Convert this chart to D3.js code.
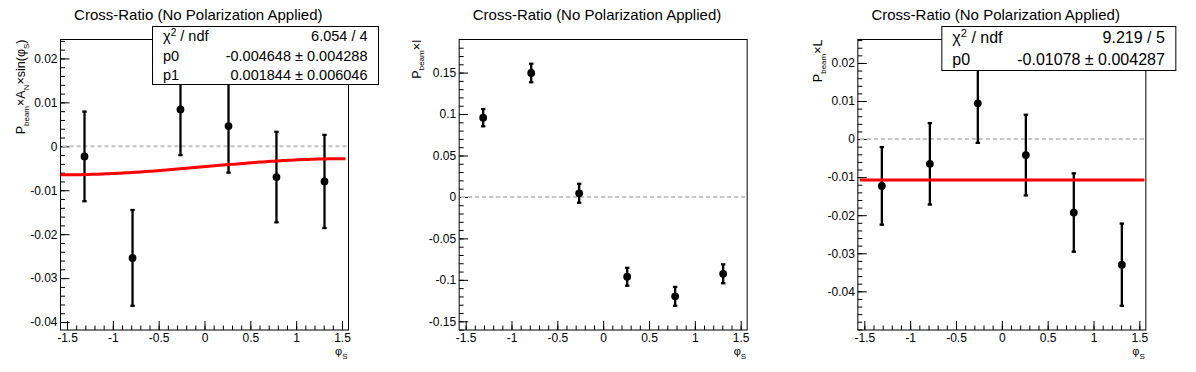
<!DOCTYPE html>
<html>
<head>
<meta charset="utf-8">
<script src="https://cdn.jsdelivr.net/npm/d3@7"></script>
<style>
  body { margin: 0; background: #fff; }
  svg { display: block; font-family: "Liberation Sans", Arial, Helvetica, sans-serif; }
</style>
</head>
<body>
<svg id="chart" width="1196" height="372"></svg>
<script>
// bin centres of phi_S (6 bins over -pi/2 .. pi/2)
const phiS = [-1.309, -0.785, -0.262, 0.262, 0.785, 1.309];

// Pbeam x A_N x sin(phi_S)
const sinMod = [-0.0023, -0.0254, 0.0084, 0.0046, -0.0070, -0.0080];
const sinModErr = [0.0102, 0.0109, 0.0104, 0.0106, 0.0103, 0.0106];
// Pbeam x I
const beamI = [0.0956, 0.1495, 0.0044, -0.0963, -0.1199, -0.0927];
const beamIErr = [0.0104, 0.0112, 0.0114, 0.0108, 0.0114, 0.0114];
// Pbeam x L
const beamL = [-0.0123, -0.0065, 0.0094, -0.0042, -0.0193, -0.0330];
const beamLErr = [0.0102, 0.0107, 0.0104, 0.0106, 0.0103, 0.0108];

// fit results
const sinFitPars = [-0.004648, 0.001844];
const sinStats = [["χ^2 / ndf", "6.054 / 4"], ["p0", "-0.004648 ± 0.004288"], ["p1", "0.001844 ± 0.006046"]];
const lFitPars = [-0.01078];
const lStats = [["χ^2 / ndf", "9.219 / 5"], ["p0", "-0.01078 ± 0.004287"]];

// tick labels
const xTicks = [-1.5, -1, -0.5, 0, 0.5, 1, 1.5];
const sinTicks = [-0.04, -0.03, -0.02, -0.01, 0, 0.01, 0.02];
const iTicks = [-0.15, -0.1, -0.05, 0, 0.05, 0.1, 0.15];
const lTicks = [-0.04, -0.03, -0.02, -0.01, 0, 0.01, 0.02];

const title = "Cross-Ratio (No Polarization Applied)";

const W = 1196, H = 372, padW = W / 3;
const frame = {left: 60.5, right: 348.5, top: 39.5, bottom: 330};
const fmt = d => String(+d.toFixed(4));

const panels = [
  {vals: sinMod, errs: sinModErr, yTicks: sinTicks, titleX: 25,
   yTitle: [["P"], ["beam", 1], ["×A"], ["N", 1], ["×sin(φ"], ["S", 1], [")"]],
   fit: {pars: sinFitPars, f: (p, t) => p[0] + p[1] * Math.sin(t), range: [-1.5708, 1.538]},
   stats: {rows: sinStats, x1: 152.5, x2: 378.5, y1: 26.5, y2: 84.5, fs: 14.5}},
  {vals: beamI, errs: beamIErr, yTicks: iTicks, titleX: 22,
   yTitle: [["P"], ["beam", 1], ["×I"]]},
  {vals: beamL, errs: beamLErr, yTicks: lTicks, titleX: 25,
   yTitle: [["P"], ["beam", 1], ["×L"]],
   fit: {pars: lFitPars, f: (p, t) => p[0], range: [-1.55, 1.555]},
   stats: {rows: lStats, x1: 144.5, x2: 378.5, y1: 26.5, y2: 70.5, fs: 16}}
];

const svg = d3.select("#chart");

panels.forEach((cfg, k) => {
  const g = svg.append("g").attr("transform", `translate(${k * padW},0)`);

  const x = d3.scaleLinear().domain([-Math.PI / 2, Math.PI / 2]).range([frame.left, frame.right]);
  const lo = d3.min(cfg.vals, (v, i) => v - cfg.errs[i]);
  const hi = d3.max(cfg.vals, (v, i) => v + cfg.errs[i]);
  const m = 0.1 * (hi - lo);
  const y = d3.scaleLinear().domain([lo - m, hi + m]).range([frame.bottom, frame.top]);

  // title
  g.append("text")
    .attr("x", padW / 2 - 1).attr("y", 19.5)
    .attr("text-anchor", "middle").attr("font-size", 15)
    .text(title);

  // frame
  g.append("rect")
    .attr("x", frame.left).attr("y", frame.top)
    .attr("width", frame.right - frame.left).attr("height", frame.bottom - frame.top)
    .attr("fill", "none").attr("stroke", "#000").attr("stroke-width", 1);

  // minor ticks
  g.append("g").attr("class", "ax").attr("transform", `translate(${frame.left},0)`)
    .call(d3.axisLeft(y).tickValues(y.ticks(30)).tickSizeInner(-4.5).tickSizeOuter(0).tickFormat(""));
  g.append("g").attr("class", "ax").attr("transform", `translate(0,${frame.bottom})`)
    .call(d3.axisBottom(x).tickValues(x.ticks(30)).tickSizeInner(-4.5).tickSizeOuter(0).tickFormat(""));

  // major ticks and labels
  g.append("g").attr("class", "ax").attr("transform", `translate(${frame.left},0)`)
    .call(d3.axisLeft(y).tickValues(cfg.yTicks).tickSizeInner(-9).tickSizeOuter(0).tickPadding(3).tickFormat(fmt));
  g.append("g").attr("class", "ax").attr("transform", `translate(0,${frame.bottom})`)
    .call(d3.axisBottom(x).tickValues(xTicks).tickSizeInner(-9).tickSizeOuter(0).tickPadding(3).tickFormat(fmt));

  g.selectAll(".ax .domain").remove();
  g.selectAll(".ax line").attr("stroke", "#000");
  g.selectAll(".ax text").attr("fill", "#000").attr("font-size", 12)
    .attr("font-family", "'Liberation Sans', Arial, sans-serif");

  // y title (rotated, aligned to top of frame)
  const yt = g.append("text")
    .attr("transform", `translate(${cfg.titleX},${frame.top}) rotate(-90)`)
    .attr("text-anchor", "end").attr("font-size", 12.5);
  let shift = 0;
  cfg.yTitle.forEach(([t, sub]) => {
    const want = sub ? 3.5 : 0;
    yt.append("tspan").attr("dy", want - shift)
      .attr("font-size", sub ? 8 : 12.5).text(t);
    shift = want;
  });

  // x title
  const xt = g.append("text")
    .attr("x", frame.right - 1).attr("y", 355)
    .attr("text-anchor", "end").attr("font-size", 11);
  xt.append("tspan").text("φ");
  xt.append("tspan").attr("dy", 3.5).attr("font-size", 8).text("S");

  // zero line
  g.append("line")
    .attr("x1", frame.left + 2).attr("x2", frame.right - 2)
    .attr("y1", y(0)).attr("y2", y(0))
    .attr("stroke", "#c4c4c4").attr("stroke-width", 2).attr("stroke-dasharray", "4,3");

  // error bars
  const pts = phiS.map((p, i) => ({p, v: cfg.vals[i], e: cfg.errs[i]}));
  const eb = g.append("g").attr("stroke", "#000").attr("stroke-width", 2.3);
  eb.selectAll(".bar").data(pts).enter().append("line")
    .attr("x1", d => x(d.p)).attr("x2", d => x(d.p))
    .attr("y1", d => y(d.v - d.e)).attr("y2", d => y(d.v + d.e));
  eb.selectAll(".capT").data(pts).enter().append("line")
    .attr("x1", d => x(d.p) - 2.2).attr("x2", d => x(d.p) + 2.2)
    .attr("y1", d => y(d.v + d.e)).attr("y2", d => y(d.v + d.e));
  eb.selectAll(".capB").data(pts).enter().append("line")
    .attr("x1", d => x(d.p) - 2.2).attr("x2", d => x(d.p) + 2.2)
    .attr("y1", d => y(d.v - d.e)).attr("y2", d => y(d.v - d.e));

  // markers
  g.selectAll(".pt").data(pts).enter().append("circle")
    .attr("cx", d => x(d.p)).attr("cy", d => y(d.v)).attr("r", 3.9).attr("fill", "#000");

  // fit
  if (cfg.fit) {
    const [a, b] = cfg.fit.range;
    const ts = d3.range(0, 101).map(i => a + (b - a) * i / 100);
    g.append("path")
      .attr("d", d3.line().x(t => x(t)).y(t => y(cfg.fit.f(cfg.fit.pars, t)))(ts))
      .attr("fill", "none").attr("stroke", "#ff0000").attr("stroke-width", 3);
  }

  // stats box
  if (cfg.stats) {
    const s = cfg.stats;
    g.append("rect")
      .attr("x", s.x1).attr("y", s.y1).attr("width", s.x2 - s.x1).attr("height", s.y2 - s.y1)
      .attr("fill", "#fff").attr("stroke", "#000").attr("stroke-width", 1);
    const rh = (s.y2 - s.y1) / s.rows.length;
    s.rows.forEach(([lab, val], i) => {
      const cy = s.y1 + rh * (i + 0.5) + s.fs * 0.36;
      const lt = g.append("text").attr("x", s.x1 + 10.5).attr("y", cy).attr("font-size", s.fs);
      const parts = lab.split("^");
      if (parts.length > 1) {
        lt.append("tspan").text(parts[0]);
        lt.append("tspan").attr("dy", -s.fs * 0.4).attr("font-size", s.fs * 0.7).text(parts[1][0]);
        lt.append("tspan").attr("dy", s.fs * 0.4).text(parts[1].slice(1));
      } else {
        lt.text(lab);
      }
      g.append("text").attr("x", s.x2 - 11).attr("y", cy)
        .attr("text-anchor", "end").attr("font-size", s.fs).text(val);
    });
  }
});
</script>
</body>
</html>
